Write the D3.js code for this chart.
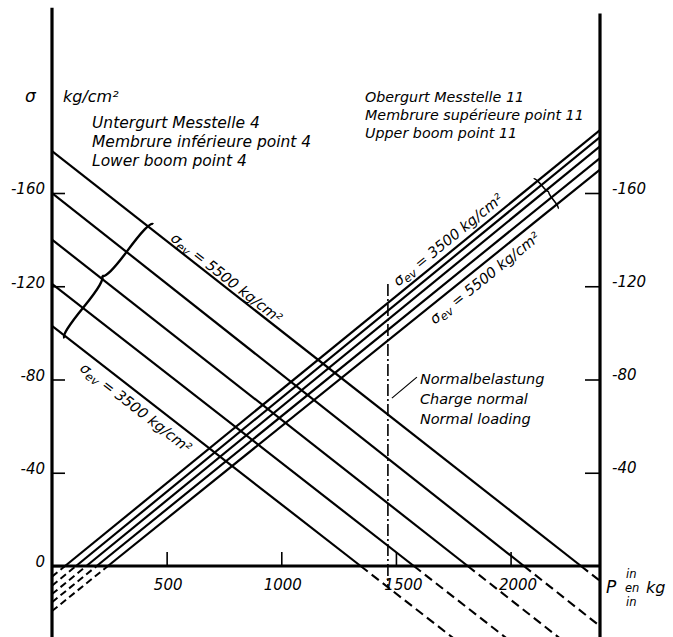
<!DOCTYPE html>
<html><head><meta charset="utf-8">
<script src="https://cdn.jsdelivr.net/npm/d3@7"></script>
<style>
html,body{margin:0;padding:0;background:#fff;}
svg{display:block;}
text{font-family:"DejaVu Sans",sans-serif;font-style:italic;fill:#000;}
</style></head><body>
<svg id="c" width="673" height="637"></svg>
<script>
// ---- data ----
const loadTicks = [500, 1000, 1500, 2000];            // P in kg
const stressTicks = [0, 40, 80, 120, 160];             // |σ| in kg/cm² (labelled negative)
// Lower boom point 4 (descending lines): σ at P=0 and P where σ reaches 0
const lowerAtZeroLoad = [178, 160, 140, 121, 103];
const lowerZeroLoad   = [2307, 2058, 1813, 1578, 1346];
// Upper boom point 11 (ascending lines): P where σ=0 and σ at the right edge
const upperZeroLoad   = [57, 105, 150, 195, 244];
const upperAtMaxLoad  = [187, 184, 180, 175, 170];
const loadMax = 2390;
const normalLoad = 1465;
const stressTop = 239.5, stressBottom = -32;

const svg = d3.select("#c");
const x = d3.scaleLinear().domain([0, loadMax]).range([52, 600]);
const y = d3.scaleLinear().domain([0, 160]).range([566, 193]);
const line = d3.line().x(d => x(d[0])).y(d => y(d[1]));

svg.append("defs").append("clipPath").attr("id", "plot")
  .append("rect").attr("x", x(0)).attr("y", 0)
  .attr("width", x(loadMax) - x(0)).attr("height", 637);

const g = svg.append("g").attr("clip-path", "url(#plot)");

const lower = lowerAtZeroLoad.map((a, i) => ({a, z: lowerZeroLoad[i]}));
const upper = upperZeroLoad.map((p0, i) => ({p0, r: upperAtMaxLoad[i]}));

// lower boom lines
lower.forEach(l => {
  g.append("path").attr("d", line([[0, l.a], [l.z, 0]]))
    .attr("fill", "none").attr("stroke", "#000").attr("stroke-width", 2.2);
  const ext = 50;
  g.append("path").attr("d", line([[l.z, 0], [l.z + ext * l.z / l.a, -ext]]))
    .attr("fill", "none").attr("stroke", "#000").attr("stroke-width", 2.1)
    .attr("stroke-dasharray", "9,5");
});
// upper boom lines
upper.forEach(u => {
  const s0 = -u.r * u.p0 / (loadMax - u.p0);
  g.append("path").attr("d", line([[u.p0, 0], [loadMax, u.r]]))
    .attr("fill", "none").attr("stroke", "#000").attr("stroke-width", 2.2);
  g.append("path").attr("d", line([[0, s0], [u.p0, 0]]))
    .attr("fill", "none").attr("stroke", "#000").attr("stroke-width", 2)
    .attr("stroke-dasharray", "7,4");
});

// normal loading dash-dot line
svg.append("path").attr("d", line([[normalLoad, 121], [normalLoad, -9]]))
  .attr("fill", "none").attr("stroke", "#000").attr("stroke-width", 1.6)
  .attr("stroke-dasharray", "12,3,2,3");

// axes frame
const frame = svg.append("g").attr("stroke", "#000").attr("stroke-width", 3.2).attr("fill", "none");
frame.append("path").attr("d", line([[0, stressTop], [0, stressBottom]]));
frame.append("path").attr("d", line([[loadMax, stressTop - 2.5], [loadMax, stressBottom]]));
frame.append("path").attr("d", line([[0, 0], [loadMax, 0]]));

const fmt = d => d === 0 ? "0" : "-" + d;
const leftAx = svg.append("g").attr("transform", `translate(${x(0)},0)`)
  .call(d3.axisLeft(y).tickValues(stressTicks).tickSizeInner(-13).tickSizeOuter(0).tickPadding(7).tickFormat(fmt));
const rightAx = svg.append("g").attr("transform", `translate(${x(loadMax)},0)`)
  .call(d3.axisRight(y).tickValues(stressTicks.filter(d => d > 0)).tickSizeInner(-15).tickSizeOuter(0).tickPadding(12).tickFormat(fmt));
const botAx = svg.append("g").attr("transform", `translate(0,${y(0)})`)
  .call(d3.axisBottom(x).tickValues(loadTicks).tickSizeInner(-14).tickSizeOuter(0).tickPadding(13).tickFormat(d => d));
[leftAx, rightAx, botAx].forEach(a => {
  a.select(".domain").remove();
  a.selectAll(".tick line").attr("stroke", "#000").attr("stroke-width", 1.6);
  a.selectAll(".tick text").attr("font-family", "DejaVu Sans").attr("font-style", "italic")
    .attr("font-size", 15).attr("fill", "#000");
});
leftAx.selectAll(".tick text").attr("dy", "0.05em");
rightAx.selectAll(".tick text").attr("dy", "0.0em");
botAx.selectAll(".tick text").attr("dx", d => d >= 1500 ? 7 : 1);

// ---- helpers ----
function pix(p, s) { return [x(p), y(s)]; }
function cross(a, b) { return a[0] * b[1] - a[1] * b[0]; }
function rayHit(p, n, A, B) {
  const BA = [B[0] - A[0], B[1] - A[1]];
  return cross([A[0] - p[0], A[1] - p[1]], BA) / cross(n, BA);
}
function makeBrace(x1, y1, x2, y2, w, q) {
  let dx = x1 - x2, dy = y1 - y2; const len = Math.hypot(dx, dy);
  dx /= len; dy /= len;
  const qx1 = x1 + q * w * dy, qy1 = y1 - q * w * dx;
  const qx2 = (x1 - .25 * len * dx) + (1 - q) * w * dy, qy2 = (y1 - .25 * len * dy) - (1 - q) * w * dx;
  const tx1 = (x1 - .5 * len * dx) + w * dy, ty1 = (y1 - .5 * len * dy) - w * dx;
  const qx3 = x2 + q * w * dy, qy3 = y2 - q * w * dx;
  const qx4 = (x1 - .75 * len * dx) + (1 - q) * w * dy, qy4 = (y1 - .75 * len * dy) - (1 - q) * w * dx;
  return `M${x1},${y1}Q${qx1},${qy1} ${qx2},${qy2}T${tx1},${ty1}M${x2},${y2}Q${qx3},${qy3} ${qx4},${qy4}T${tx1},${ty1}`;
}
function unitDir(A, B) { const dx = B[0] - A[0], dy = B[1] - A[1], L = Math.hypot(dx, dy); return [dx / L, dy / L]; }

// lower boom brace (from lowest to highest line)
{
  const lo = lower[4], hi = lower[0];
  const A = pix(0, lo.a), B = pix(lo.z, 0);
  const u = unitDir(A, B); const n = [u[1], -u[0]];
  const pL = 60;
  const p = pix(pL, lo.a * (1 - pL / lo.z));
  const t = rayHit(p, n, pix(0, hi.a), pix(hi.z, 0));
  const s = [p[0] - 2 * n[0], p[1] - 2 * n[1]];
  const e = [p[0] + (t + 5) * n[0], p[1] + (t + 5) * n[1]];
  svg.append("path").attr("d", makeBrace(e[0], e[1], s[0], s[1], 9, 0.55))
    .attr("fill", "none").attr("stroke", "#000").attr("stroke-width", 2.4);
}
// upper boom bracket
{
  const t1 = upper[0], t5 = upper[4];
  const A = pix(t1.p0, 0), B = pix(loadMax, t1.r);
  const u = unitDir(A, B); const nDown = [-u[1], u[0]];
  const pL = 2112;
  const p = pix(pL, t1.r * (pL - t1.p0) / (loadMax - t1.p0));
  const t = rayHit(p, nDown, pix(t5.p0, 0), pix(loadMax, t5.r));
  const s = [p[0] - 4 * nDown[0], p[1] - 4 * nDown[1]];
  const e = [p[0] + (t + 4) * nDown[0], p[1] + (t + 4) * nDown[1]];
  svg.append("path").attr("d", makeBrace(e[0], e[1], s[0], s[1], 4, 0.5))
    .attr("fill", "none").attr("stroke", "#000").attr("stroke-width", 1.6);
}

// labels along lines
function lineLabel(A, B, px, d, value) {
  const u = unitDir(A, B); const n = [u[1], -u[0]]; // upward normal
  const tt = (px - A[0]) / (B[0] - A[0]);
  const pt = [A[0] + tt * (B[0] - A[0]), A[1] + tt * (B[1] - A[1])];
  const pos = [pt[0] + d * n[0], pt[1] + d * n[1]];
  const ang = Math.atan2(u[1], u[0]) * 180 / Math.PI;
  const t = svg.append("text").attr("transform", `translate(${pos[0]},${pos[1]}) rotate(${ang})`)
    .attr("font-size", 14.5);
  t.append("tspan").text("σ");
  t.append("tspan").attr("font-size", 11.5).attr("dy", 3).text("ev");
  t.append("tspan").attr("dy", -3).text(" = " + value + " kg/cm²");
}
lineLabel(pix(0, lower[0].a), pix(lower[0].z, 0), 168, 3, 5500);
lineLabel(pix(0, lower[4].a), pix(lower[4].z, 0), 90, -18, 3500);
lineLabel(pix(upper[0].p0, 0), pix(loadMax, upper[0].r), 402, 6, 3500);
lineLabel(pix(upper[4].p0, 0), pix(loadMax, upper[4].r), 424, -17, 5500);

// normal loading annotation
{
  const px = x(normalLoad), py = y(72);
  svg.append("path").attr("d", `M${px + 4},${py}L${px + 29},${py - 21}`)
    .attr("stroke", "#000").attr("stroke-width", 1.2).attr("fill", "none");
  ["Normalbelastung", "Charge normal", "Normal loading"].forEach((s, i) => {
    svg.append("text").attr("x", px + 32).attr("y", py - 14 + i * 20).attr("font-size", 14.5).text(s);
  });
}

// titles
svg.append("text").attr("x", 25).attr("y", 102).attr("font-size", 17).text("σ");
svg.append("text").attr("x", 63).attr("y", 102).attr("font-size", 16).text("kg/cm²");
["Untergurt Messtelle 4", "Membrure inférieure point 4", "Lower boom point 4"].forEach((s, i) => {
  svg.append("text").attr("x", 92).attr("y", 128 + i * 19).attr("font-size", 15.5).text(s);
});
["Obergurt Messtelle 11", "Membrure supérieure point 11", "Upper boom point 11"].forEach((s, i) => {
  svg.append("text").attr("x", 365).attr("y", 102 + i * 18).attr("font-size", 14.3).text(s);
});

// x-axis unit label
{
  const gx = x(loadMax) + 6, gy = y(0) + 27;
  svg.append("text").attr("x", gx).attr("y", gy).attr("font-size", 17).text("P");
  svg.append("text").attr("x", gx + 20).attr("y", gy - 15).attr("font-size", 11.5).text("in");
  svg.append("text").attr("x", gx + 19).attr("y", gy - 1).attr("font-size", 11.5).text("en");
  svg.append("text").attr("x", gx + 40).attr("y", gy).attr("font-size", 16).text("kg");
  svg.append("text").attr("x", gx + 20).attr("y", gy + 13).attr("font-size", 11.5).text("in");
}
</script>
</body></html>
